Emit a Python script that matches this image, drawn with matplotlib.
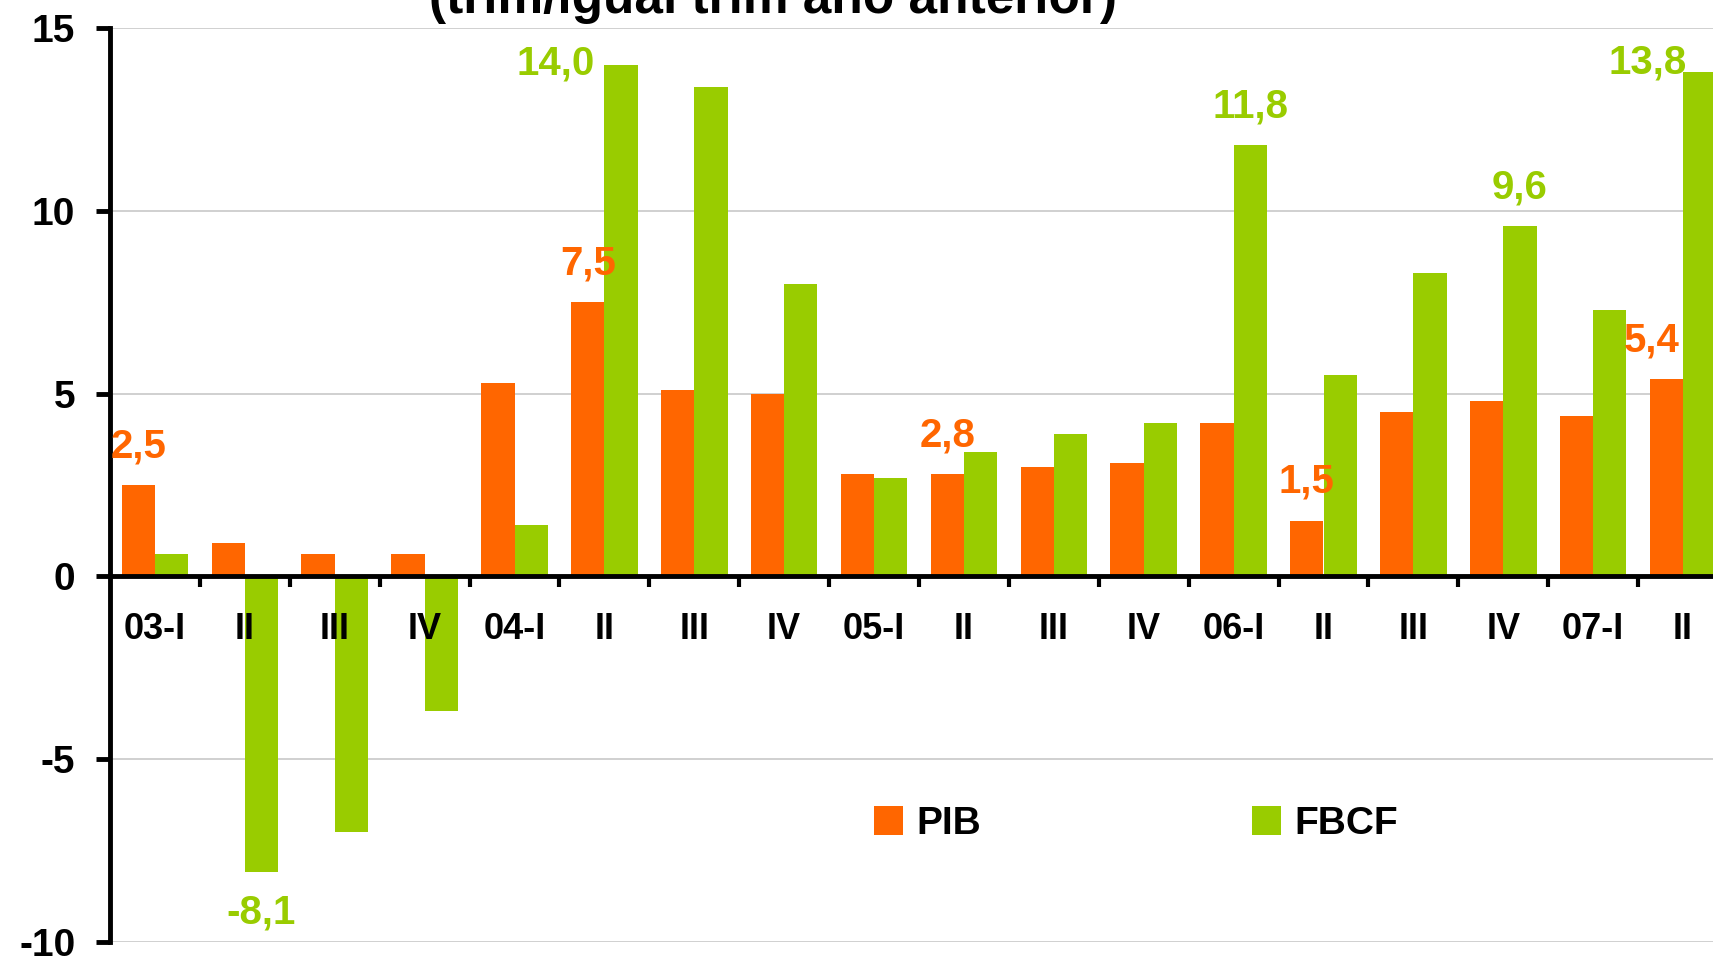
import matplotlib

matplotlib.use("Agg")
import matplotlib.pyplot as plt
import numpy as np

plt.rcParams["font.family"] = ["Liberation Sans", "DejaVu Sans"]
plt.rcParams["font.weight"] = "bold"

# quarters
quarters = ["03-I", "II", "III", "IV", "04-I", "II", "III", "IV", "05-I",
            "II", "III", "IV", "06-I", "II", "III", "IV", "07-I", "II"]
# y/y growth, %
pib = [2.5, 0.9, 0.6, 0.6, 5.3, 7.5, 5.1, 5.0, 2.8,
       2.8, 3.0, 3.1, 4.2, 1.5, 4.5, 4.8, 4.4, 5.4]
fbcf = [0.6, -8.1, -7.0, -3.7, 1.4, 14.0, 13.4, 8.0, 2.7,
        3.4, 3.9, 4.2, 11.8, 5.5, 8.3, 9.6, 7.3, 13.8]
yticks = [-10, -5, 0, 5, 10, 15]

ORANGE = "#FF6600"
GREEN = "#99CC00"

# value labels: (index, dx in categories, dy in units)
pib_labels = [(0, 0, 1.05), (5, 0, 1.05), (9, 0, 1.05), (13, 0, 1.1), (17, -0.16, 1.05)]
fbcf_labels = [(1, 0, -1.1), (5, -0.73, 0.05), (12, 0, 1.05), (15, 0, 1.05), (17, -0.58, 0.27)]

W, H = 1713, 957
fig = plt.figure(figsize=(W / 100, H / 100), dpi=100)
left, right = 110 / W, 1728 / W
bottom, top = 1 - 941.5 / H, 1 - 28.4 / H
ax = fig.add_axes([left, bottom, right - left, top - bottom])

x = np.arange(len(quarters))
bw = 0.37
b1 = ax.bar(x - bw / 2, pib, width=bw, color=ORANGE, zorder=2, label="PIB")
b2 = ax.bar(x + bw / 2, fbcf, width=bw, color=GREEN, zorder=2, label="FBCF")

ax.set_xlim(-0.5, len(quarters) - 0.5)
ax.set_ylim(-10, 15)
ax.set_yticks(yticks)
ax.set_yticklabels([str(t) for t in yticks])
# gridlines drawn by hand so tick labels can sit above the bars
for t in yticks:
    if t != 0:
        ax.axhline(t, color="#C8C8C8", linewidth=1.2, zorder=0)
ax.set_axisbelow(False)

for s in ["top", "right"]:
    ax.spines[s].set_visible(False)
ax.spines["left"].set_linewidth(3.5)
ax.spines["bottom"].set_position(("data", 0))
ax.spines["bottom"].set_linewidth(3.5)
ax.spines["bottom"].set_zorder(3)

ax.set_xticks(x)
ax.set_xticklabels(quarters)
ax.set_xticks(np.arange(0.5, len(quarters), 1), minor=True)
ax.tick_params(axis="x", which="major", length=0, pad=26, labelsize=26)
ax.tick_params(axis="x", which="minor", length=8, width=3, direction="out")
ax.tick_params(axis="y", length=10, width=3.5, pad=15, labelsize=28)
for lab in ax.get_xticklabels() + ax.get_yticklabels():
    lab.set_fontweight("bold")

for i, dx, dy in pib_labels:
    ax.text(i - bw / 2 + dx, pib[i] + dy, f"{pib[i]:.1f}".replace(".", ","),
            color=ORANGE, fontsize=29, fontweight="bold", ha="center", va="center")
for i, dx, dy in fbcf_labels:
    ax.text(i + bw / 2 + dx, fbcf[i] + dy, f"{fbcf[i]:.1f}".replace(".", ","),
            color=GREEN, fontsize=29, fontweight="bold", ha="center", va="center")

ax.legend(handles=[b1, b2], loc="center left", ncol=2, frameon=False,
          bbox_to_anchor=(874 / W, 1 - 824 / H), bbox_transform=fig.transFigure,
          borderpad=0, borderaxespad=0, handlelength=0.75, handleheight=0.75,
          handletextpad=0.35, columnspacing=6.95,
          prop={"weight": "bold", "size": 28})

fig.text(773 / W, 1 - 13 / H, "(trim/igual trim año anterior)", ha="center",
         va="baseline", fontsize=37, fontweight="bold")

fig.savefig("out.png", dpi=100)
